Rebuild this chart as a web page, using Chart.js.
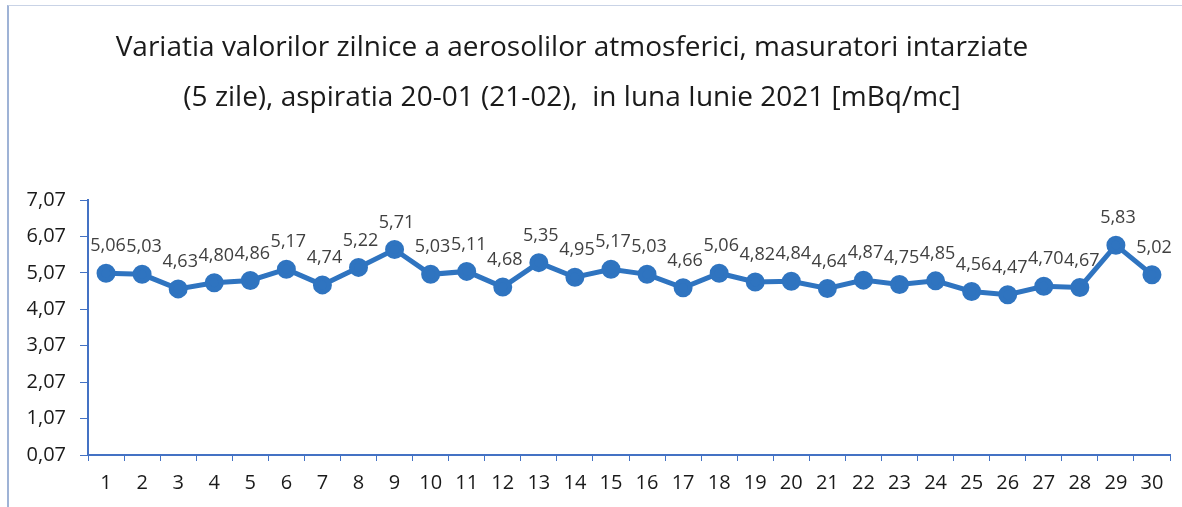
<!DOCTYPE html>
<html><head><meta charset="utf-8">
<script src="https://cdn.jsdelivr.net/npm/chart.js@4/dist/chart.umd.min.js"></script>
<style>
html,body{margin:0;padding:0;background:#fff;}
#wrap{position:relative;width:1182px;height:507px;}
#frame{position:absolute;left:7px;top:5px;width:1180px;height:510px;border-left:2px solid #9fb3d6;border-top:1px solid #c9d3e6;box-sizing:border-box;}
canvas{position:absolute;left:0;top:0;}
</style></head>
<body><div id="wrap"><div id="frame"></div><canvas id="c" width="1182" height="507"></canvas></div>
<script>
const days = ["1","2","3","4","5","6","7","8","9","10","11","12","13","14","15","16","17","18","19","20","21","22","23","24","25","26","27","28","29","30"];
const values = [5.06,5.03,4.63,4.80,4.86,5.17,4.74,5.22,5.71,5.03,5.11,4.68,5.35,4.95,5.17,5.03,4.66,5.06,4.82,4.84,4.64,4.87,4.75,4.85,4.56,4.47,4.70,4.67,5.83,5.02];
const yTicks = [0.07,1.07,2.07,3.07,4.07,5.07,6.07,7.07];
const titleLines = ["Variatia valorilor zilnice a aerosolilor atmosferici, masuratori intarziate","(5 zile), aspiratia 20-01 (21-02),  in luna Iunie 2021 [mBq/mc]"];

const fmt = v => v.toFixed(2).replace('.', ',');
const FONT = "'Open Sans', 'Liberation Sans', sans-serif";

const labelPlugin = {
  id: 'lbl',
  afterDatasetsDraw(chart) {
    const ctx = chart.ctx;
    const meta = chart.getDatasetMeta(0);
    ctx.save();
    ctx.font = "18px " + FONT;
    ctx.fillStyle = "#404040";
    ctx.textAlign = "center";
    ctx.textBaseline = "bottom";
    meta.data.forEach((p, i) => {
      ctx.fillText(fmt(values[i]), p.x + 2, p.y - 18);
    });
    ctx.restore();
  }
};

const titlePlugin = {
  id: 'ttl',
  afterDraw(chart) {
    const ctx = chart.ctx;
    ctx.save();
    ctx.font = "28px " + FONT;
    ctx.fillStyle = "#1a1a1a";
    ctx.textAlign = "center";
    ctx.textBaseline = "middle";
    titleLines.forEach((t, i) => ctx.fillText(t, 572, 48 + i * 50));
    ctx.restore();
  }
};

new Chart(document.getElementById('c'), {
  type: 'line',
  data: {
    labels: days,
    datasets: [{
      data: values,
      borderColor: '#2f74c0',
      backgroundColor: '#2f74c0',
      borderWidth: 5,
      pointRadius: 7,
      pointHoverRadius: 7,
      tension: 0
    }]
  },
  options: {
    responsive: false,
    animation: false,
    events: [],
    layout: { padding: { left: 8, right: 12, top: 200, bottom: 0 } },
    plugins: {
      legend: { display: false },
      tooltip: { enabled: false },
      title: { display: false }
    },
    scales: {
      x: {
        offset: true,
        grid: { display: true, drawOnChartArea: false, offset: true, color: '#4472c4', tickLength: 6, tickWidth: 1 },
        border: { color: '#4472c4', width: 2 },
        ticks: { color: '#1a1a1a', font: { family: FONT, size: 20 }, padding: 10, maxRotation: 0, autoSkip: false },
        afterFit: s => { s.height = 52; }
      },
      y: {
        min: 0.07, max: 7.07,
        afterBuildTicks: s => { s.ticks = yTicks.map(v => ({ value: v })); },
        grid: { display: true, drawOnChartArea: false, color: '#4472c4', tickLength: 8 },
        border: { color: '#4472c4', width: 2 },
        ticks: { color: '#1a1a1a', font: { family: FONT, size: 20 }, padding: 14, callback: v => fmt(v) },
        afterFit: s => { s.width = 80; }
      }
    }
  },
  plugins: [labelPlugin, titlePlugin]
});
</script>
</body></html>
